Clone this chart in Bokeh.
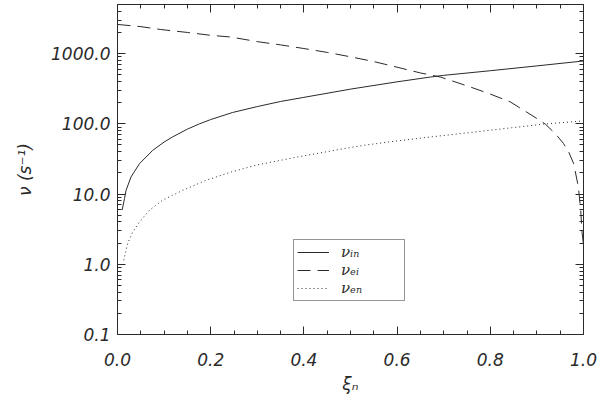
from bokeh.plotting import figure
from bokeh.models import (Range1d, FixedTicker, NumeralTickFormatter, LinearAxis,
                          LogAxis, Legend, LegendItem)
from bokeh.embed import file_html
from bokeh.resources import INLINE

# ---- data ----
xi_in = [0.0099, 0.015, 0.0184, 0.029, 0.047, 0.0757, 0.1, 0.118, 0.15, 0.176, 0.2,
         0.247, 0.3, 0.35, 0.4, 0.5, 0.6, 0.672, 0.7, 0.8, 0.9, 1.0]
nu_in = [5.9, 8.6, 11.3, 17.5, 27, 42, 55, 65, 84, 100, 115,
         145, 176, 208, 238, 312, 396, 464, 490, 570, 668, 785]

xi_ei = [0.0, 0.05, 0.093, 0.15, 0.2, 0.243, 0.3, 0.35, 0.4, 0.45, 0.5, 0.55, 0.6,
         0.65, 0.693, 0.757, 0.8, 0.843, 0.9, 0.918, 0.94, 0.957, 0.968, 0.979,
         0.989, 0.994, 0.997, 1.0]
nu_ei = [2600, 2420, 2200, 2000, 1820, 1722, 1480, 1330, 1180, 1040, 900, 770, 640,
         530, 464, 335, 265, 205, 119, 99, 72, 52.5, 40, 27,
         12.6, 5.9, 2.8, 1.9]

xi_en = [0.0135, 0.022, 0.033, 0.047, 0.0686, 0.097, 0.14, 0.19, 0.244, 0.3, 0.386,
         0.5, 0.529, 0.6, 0.672, 0.8, 0.914, 1.0]
nu_en = [1.14, 2.0, 2.9, 4.0, 5.9, 8.2, 11.3, 15.7, 20.6, 26, 33.7,
         46, 49.5, 57, 65, 81, 99, 110]

x_major = [0.0, 0.2, 0.4, 0.6, 0.8, 1.0]
x_minor = [i * 0.05 for i in range(21)]
y_major = [0.1, 1.0, 10.0, 100.0, 1000.0]
y_minor = [m * 10.0 ** k for k in range(-1, 4) for m in range(2, 10)]

labels = ["\u03bd\u1d62\u2099", "\u03bd\u2091\u1d62", "\u03bd\u2091\u2099"]

INK = "#2a2a2a"
FONT = "DejaVu Sans"

p = figure(width=608, height=404, x_range=Range1d(0, 1), y_range=Range1d(0.1, 5000),
           y_axis_type="log", output_backend="svg", toolbar_location=None,
           min_border_left=125, min_border_right=17, min_border_top=12,
           min_border_bottom=62)
p.styles = {"margin-top": "-8px", "margin-left": "-8px"}
p.grid.visible = False
p.outline_line_color = None
p.background_fill_color = "white"
p.border_fill_color = "white"

r1 = p.line(xi_in, nu_in, line_color=INK, line_width=1)
r2 = p.line(xi_ei, nu_ei, line_color=INK, line_width=1, line_dash="13 7")
r3 = p.line(xi_en, nu_en, line_color=INK, line_width=1, line_dash="1 3")


def style(ax, ticks, minor, minor_len=4):
    ax.ticker = FixedTicker(ticks=ticks, minor_ticks=minor)
    ax.formatter = NumeralTickFormatter(format="0.0")
    ax.axis_line_color = INK
    ax.major_tick_line_color = INK
    ax.minor_tick_line_color = INK
    ax.major_tick_in = 8
    ax.major_tick_out = 0
    ax.minor_tick_in = minor_len
    ax.minor_tick_out = 0
    ax.major_label_text_font = FONT
    ax.major_label_text_font_style = "italic"
    ax.major_label_text_font_size = "17px"
    ax.major_label_text_color = INK
    ax.axis_label_text_font = FONT
    ax.axis_label_text_font_style = "italic"
    ax.axis_label_text_font_size = "17px"
    ax.axis_label_text_color = INK


xa = p.xaxis[0]
ya = p.yaxis[0]
style(xa, x_major, x_minor)
style(ya, y_major, y_minor)
xa.axis_label = "\u03be\u2099"
xa.major_label_standoff = 18
xa.axis_label_standoff = 5
ya.axis_label = "\u03bd (s\u207b\u00b9)"
ya.major_label_standoff = 7
ya.axis_label_standoff = 13

# mirrored frame sides: tick marks only, no labels
for side, cls, major, minor in (("above", LinearAxis, x_major, x_minor),
                                ("right", LogAxis, y_major, y_minor)):
    a1 = cls()
    style(a1, [], minor, 4)
    a1.major_label_standoff = 0
    p.add_layout(a1, side)
    a2 = cls()
    style(a2, [], major, 8)
    a2.major_label_standoff = 0
    a2.axis_line_color = None
    p.add_layout(a2, side)

legend = Legend(items=[LegendItem(label=labels[0], renderers=[r1]),
                       LegendItem(label=labels[1], renderers=[r2]),
                       LegendItem(label=labels[2], renderers=[r3])],
                location=(176, 33), padding=3, spacing=0, glyph_width=32,
                glyph_height=14, label_height=14, label_width=60, label_standoff=12,
                label_text_font="DejaVu Serif", label_text_font_style="italic",
                label_text_font_size="15px", label_text_color=INK,
                label_text_line_height=1.0,
                border_line_color=INK, border_line_width=1,
                background_fill_color="white", background_fill_alpha=1.0)
p.add_layout(legend)

open("out.html", "w").write(file_html(p, INLINE))
